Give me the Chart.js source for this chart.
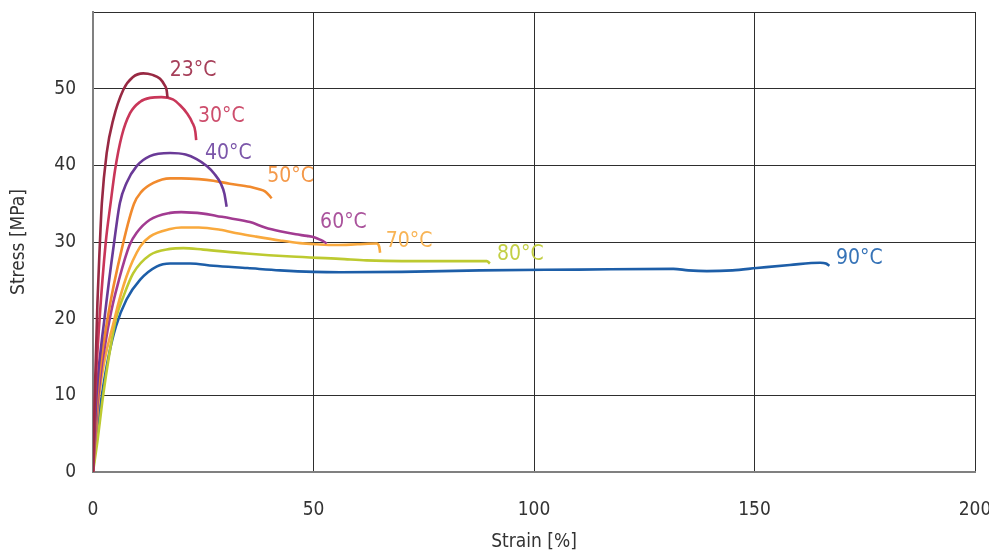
<!DOCTYPE html>
<html>
<head>
<meta charset="utf-8">
<script src="https://cdn.jsdelivr.net/npm/chart.js@4.4.1/dist/chart.umd.min.js"></script>
<style>
  html, body { margin: 0; padding: 0; background: #fff; }
  #wrap { width: 989px; height: 553px; position: relative; }
</style>
</head>
<body>
<div id="wrap"><canvas id="c" width="989" height="553"></canvas></div>
<script>
// ---- data (Strain [%], Stress [MPa]) ----
const seriesNames = ['23°C', '30°C', '40°C', '50°C', '60°C', '70°C', '80°C', '90°C'];

const s23 = [[0,0],[0.5,12],[1.0,22],[1.5,29],[2.0,35],[3.1,41.6],[4.6,46.0],[6.9,49.9],[9,51.5],[11.4,52.0],[13.5,51.8],[15.2,51.3],[16.2,50.5],[16.7,49.8],[16.9,48.8]];
const s30 = [[0,0],[0.5,10],[1.5,20],[2.9,30],[4.0,35.1],[5.0,39.4],[6.5,43.8],[8.4,46.8],[10.7,48.3],[12.9,48.8],[15.5,48.9],[18.1,48.6],[19.8,47.8],[21.3,46.8],[22.5,45.6],[23.2,44.4],[23.4,43.3]];
const s40 = [[0,0],[0.8,10],[2.6,20],[4.8,30],[6.1,35.1],[7.6,37.7],[9.9,39.9],[12.9,41.2],[17.5,41.6],[21,41.4],[23.5,40.8],[25.8,39.9],[27.5,38.9],[29.0,37.6],[29.8,36.3],[30.3,34.6]];
const s50 = [[0,0],[1.0,10],[3.3,20],[6.9,30],[9.3,35.0],[10.9,36.5],[13.7,37.7],[17.5,38.3],[20,38.3],[24,38.2],[27.3,38.0],[31,37.6],[35.6,37.2],[37.5,36.9],[39.0,36.6],[39.9,36.1],[40.5,35.7]];
const s60 = [[0,0],[1.2,10],[3.8,20],[6.0,25.3],[8.3,29.6],[9.9,31.2],[12.9,32.9],[17.5,33.8],[20,33.9],[25,33.7],[28,33.4],[31.1,33.1],[35.6,32.6],[39,31.9],[42.4,31.4],[46,31.0],[48.5,30.8],[50.3,30.6],[51.5,30.3],[52.5,30.0],[53,29.8]];
const s70 = [[0,0],[1.4,10],[4.9,20],[7.6,25.5],[10.7,29.4],[12.9,30.7],[17.5,31.7],[20,31.9],[24,31.9],[28.8,31.6],[33,31.1],[37,30.7],[42.4,30.2],[46.9,29.85],[50.7,29.7],[55,29.6],[60,29.7],[64.3,29.8],[64.9,29.4],[65.1,28.6]];
const s80 = [[0,0],[1.0,4],[2.3,10],[3.6,15],[5.2,20],[6.9,22.9],[9.1,25.9],[12.9,28.3],[17.5,29.1],[20.5,29.2],[25,29.0],[34.8,28.5],[45,28.1],[56,27.8],[62,27.6],[70,27.5],[80,27.5],[89.3,27.5],[90,27.2]];
const s90 = [[0,0],[0.8,5],[2.0,10],[3.5,15],[5.2,19],[7.6,22.5],[10.7,25.1],[14.4,26.8],[17.5,27.2],[22,27.2],[27.3,26.9],[35,26.6],[42.4,26.3],[50,26.1],[56,26.05],[70,26.1],[87.8,26.3],[110,26.4],[131.6,26.5],[135,26.3],[139.2,26.2],[145,26.3],[150.5,26.6],[158,27.0],[164.9,27.3],[166.2,27.2],[167,26.9]];

// label anchors (data units: left edge x, vertical centre y)
const labelX = [17.4, 23.8, 25.4, 39.5, 51.5, 66.4, 91.6, 168.5];
const labelY = [52.3, 46.3, 41.6, 38.5, 32.5, 30.0, 28.4, 27.8];

const xTicks = [0, 50, 100, 150, 200];
const yTicks = [0, 10, 20, 30, 40, 50];

// ---- styles ----
const lineColors  = ['#982943', '#c93659', '#6a3a97', '#f18a2d', '#a23b91', '#f9a93d', '#bdca30', '#1d5ea8'];
const labelColors = ['#a63f59', '#cd4d6c', '#7b56a9', '#f4994a', '#aa539c', '#f8b455', '#c3cf44', '#3673b7'];
const FONT = "'DejaVu Sans Condensed', 'Liberation Sans Narrow', 'Noto Sans', sans-serif";

const all = [s23, s30, s40, s50, s60, s70, s80, s90];
const datasets = all.map((arr, i) => ({
  label: seriesNames[i],
  data: arr.map(p => ({x: p[0], y: p[1]})),
  showLine: true,
  borderColor: lineColors[i],
  backgroundColor: lineColors[i],
  borderWidth: 2.6,
  pointRadius: 0,
  cubicInterpolationMode: 'monotone',
  fill: false
}));

const labelPlugin = {
  id: 'curveLabels',
  afterDatasetsDraw(chart) {
    const {ctx, scales: {x, y}} = chart;
    ctx.save();
    ctx.font = "21px " + FONT;
    ctx.textAlign = 'left';
    ctx.textBaseline = 'middle';
    seriesNames.forEach((name, i) => {
      ctx.fillStyle = labelColors[i];
      ctx.fillText(name, x.getPixelForValue(labelX[i]), y.getPixelForValue(labelY[i]));
    });
    ctx.restore();
  }
};

new Chart(document.getElementById('c'), {
  type: 'scatter',
  data: { datasets },
  plugins: [labelPlugin],
  options: {
    responsive: false,
    animation: false,
    layout: { padding: { left: 0, right: 14, top: 12, bottom: 0 } },
    plugins: { legend: { display: false }, tooltip: { enabled: false } },
    scales: {
      x: {
        type: 'linear',
        min: 0, max: 200,
        afterBuildTicks(s) { s.ticks = xTicks.map(v => ({value: v})); },
        afterFit(s) { s.height = 81; s.paddingLeft = 0; s.paddingRight = 0; },
        ticks: { color: '#333', font: { family: FONT, size: 19 }, padding: 27, maxRotation: 0 },
        grid: { color: '#2e2e2e', lineWidth: 1, drawTicks: false },
        border: { color: '#808080', width: 2 },
        title: { display: true, text: 'Strain [%]', color: '#333', font: { family: FONT, size: 19 }, padding: { top: 0, bottom: 0 } }
      },
      y: {
        type: 'linear',
        min: 0, max: 60,
        afterBuildTicks(s) { s.ticks = yTicks.concat([60]).map(v => ({value: v})); },
        afterFit(s) { s.width = 93; s.paddingTop = 0; s.paddingBottom = 0; },
        ticks: { color: '#333', font: { family: FONT, size: 19 }, padding: 17,
                 callback: v => (yTicks.includes(v) ? String(v) : '') },
        grid: { color: '#2e2e2e', lineWidth: 1, drawTicks: false },
        border: { color: '#808080', width: 2 },
        title: { display: true, text: 'Stress [MPa]', color: '#333', font: { family: FONT, size: 19 }, padding: { top: 8, bottom: 0 } }
      }
    }
  }
});
</script>
</body>
</html>
